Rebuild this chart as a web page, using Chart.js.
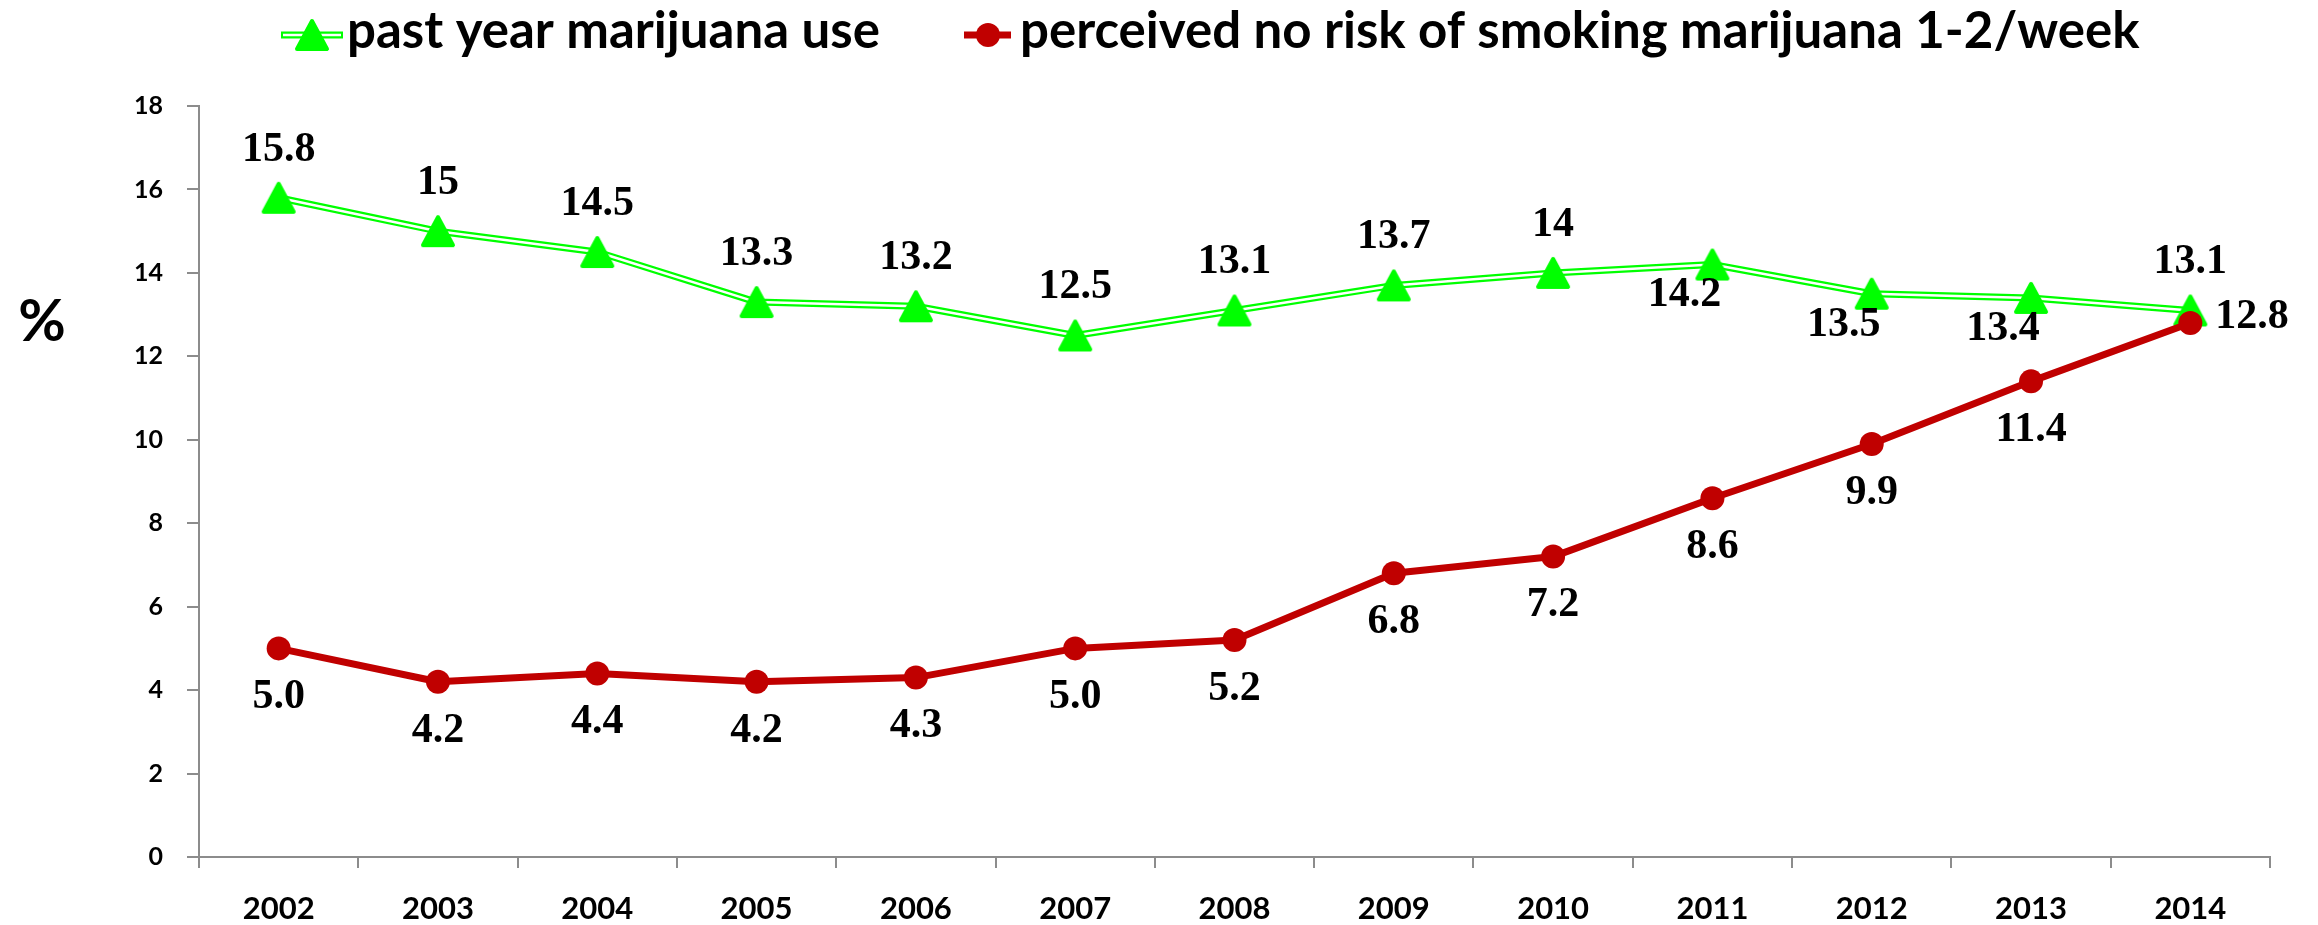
<!DOCTYPE html>
<html>
<head>
<meta charset="utf-8">
<title>Marijuana use and perceived risk, 2002-2014</title>
<script src="https://cdn.jsdelivr.net/npm/chart.js@4.4.1/dist/chart.umd.min.js"></script>
<style>
    html, body { margin: 0; padding: 0; background: #fff; }
    #wrap { width: 2318px; height: 925px; position: relative; }
</style>
</head>
<body>
<div id="wrap"><canvas id="trendChart"></canvas></div>
<script>
// Datos
const years = ['2002', '2003', '2004', '2005', '2006', '2007', '2008', '2009', '2010', '2011', '2012', '2013', '2014'];
const pastYearUse = [15.8, 15, 14.5, 13.3, 13.2, 12.5, 13.1, 13.7, 14, 14.2, 13.5, 13.4, 13.1];
const noRiskPerceived = [5.0, 4.2, 4.4, 4.2, 4.3, 5.0, 5.2, 6.8, 7.2, 8.6, 9.9, 11.4, 12.8];
const seriesNames = ['past year marijuana use', 'perceived no risk of smoking marijuana 1-2/week'];
const yMin = 0;
const yMax = 18;
const yStep = 2;
const yTitle = '%';

const GREEN = '#00ff00';
const RED = '#c00000';
const AXIS = '#8c8c8c';

// Donde va cada etiqueta respecto a su punto
const pastYearSides = ['top', 'top', 'top', 'top', 'top', 'top', 'top', 'top', 'top', 'bottomLeft', 'bottomLeft', 'bottomLeft', 'top'];
const noRiskSides = ['bottom', 'bottom', 'bottom', 'bottom', 'bottom', 'bottom', 'bottom', 'bottom', 'bottom', 'bottom', 'bottom', 'bottom', 'right'];

// Triangulo con esquinas redondeadas para los marcadores
function makeTriangle() {
    const c = document.createElement('canvas');
    c.width = 36;
    c.height = 34;
    const g = c.getContext('2d');
    g.fillStyle = GREEN;
    g.strokeStyle = GREEN;
    g.lineWidth = 4;
    g.lineJoin = 'round';
    g.beginPath();
    g.moveTo(18, 3);
    g.lineTo(33, 31);
    g.lineTo(3, 31);
    g.closePath();
    g.fill();
    g.stroke();
    return c;
}
const triangle = makeTriangle();

// Etiquetas de valor
const valueLabels = {
    id: 'valueLabels',
    afterDatasetsDraw(chart) {
        const ctx = chart.ctx;
        ctx.save();
        ctx.font = 'bold 42px "Liberation Serif", serif';
        ctx.fillStyle = '#000';
        ctx.textBaseline = 'middle';
        chart.data.datasets.forEach((ds, i) => {
            if (!ds.labelSides) return;
            const meta = chart.getDatasetMeta(i);
            meta.data.forEach((pt, j) => {
                const v = ds.data[j];
                const text = ds.labelFormat(v);
                const side = ds.labelSides[j];
                let dx = 0, dy = 0;
                ctx.textAlign = 'center';
                if (side === 'top') dy = -48;
                else if (side === 'bottom') dy = 49;
                else if (side === 'bottomLeft') { dx = -28; dy = 31; }
                else if (side === 'right') { dx = 25; dy = -6; ctx.textAlign = 'left'; }
                ctx.fillText(text, pt.x + dx, pt.y + dy);
            });
        });
        ctx.restore();
    }
};

// Leyenda superior y titulo del eje Y
const legendAndTitle = {
    id: 'legendAndTitle',
    afterDraw(chart) {
        const ctx = chart.ctx;
        const yMid = 35;
        ctx.save();

        // serie verde: linea doble + triangulo
        ctx.lineCap = 'butt';
        ctx.strokeStyle = GREEN;
        ctx.lineWidth = 7;
        ctx.beginPath();
        ctx.moveTo(281, yMid);
        ctx.lineTo(343, yMid);
        ctx.stroke();
        ctx.strokeStyle = '#fff';
        ctx.lineWidth = 2.5;
        ctx.beginPath();
        ctx.moveTo(283, yMid);
        ctx.lineTo(341, yMid);
        ctx.stroke();
        ctx.drawImage(triangle, 312 - triangle.width / 2, yMid - triangle.height / 2);

        // serie roja: linea + circulo
        ctx.strokeStyle = RED;
        ctx.lineWidth = 7;
        ctx.beginPath();
        ctx.moveTo(964, yMid);
        ctx.lineTo(1011, yMid);
        ctx.stroke();
        ctx.fillStyle = RED;
        ctx.beginPath();
        ctx.arc(988, yMid, 12, 0, Math.PI * 2);
        ctx.fill();

        ctx.fillStyle = '#000';
        ctx.font = 'bold 51px Lato, sans-serif';
        ctx.textAlign = 'left';
        ctx.textBaseline = 'alphabetic';
        ctx.fillText(seriesNames[0], 347, 48);
        ctx.fillText(seriesNames[1], 1020, 48);

        // titulo eje Y sin rotar
        ctx.font = 'bold 58px Lato, sans-serif';
        ctx.textAlign = 'center';
        ctx.textBaseline = 'middle';
        ctx.fillText(yTitle, 42, 322);
        ctx.restore();
    }
};

const ctx = document.getElementById('trendChart').getContext('2d');
const trendChart = new Chart(ctx, {
    type: 'line',
    data: {
        labels: years,
        datasets: [
            {
                // roja encima de todo
                label: seriesNames[1],
                data: noRiskPerceived,
                borderColor: RED,
                backgroundColor: RED,
                borderWidth: 7,
                borderJoinStyle: 'round',
                pointRadius: 12,
                pointBackgroundColor: RED,
                pointBorderWidth: 0,
                tension: 0,
                order: 0,
                labelSides: noRiskSides,
                labelFormat: v => v.toFixed(1)
            },
            {
                // marcadores triangulares
                label: seriesNames[0],
                data: pastYearUse,
                showLine: false,
                pointStyle: triangle,
                pointRadius: 17,
                order: 1,
                labelSides: pastYearSides,
                labelFormat: v => String(v)
            },
            {
                // centro blanco de la linea doble
                label: 'inner',
                data: pastYearUse,
                borderColor: '#fff',
                borderWidth: 2.5,
                borderJoinStyle: 'round',
                pointRadius: 0,
                tension: 0,
                order: 2
            },
            {
                // borde verde de la linea doble
                label: 'outer',
                data: pastYearUse,
                borderColor: GREEN,
                borderWidth: 7,
                borderJoinStyle: 'round',
                pointRadius: 0,
                tension: 0,
                order: 3
            }
        ]
    },
    options: {
        responsive: true,
        maintainAspectRatio: false,
        animation: false,
        layout: {
            padding: { top: 106, right: 48, left: 0, bottom: 0 }
        },
        plugins: {
            legend: { display: false },
            tooltip: { enabled: false }
        },
        scales: {
            x: {
                offset: true,
                grid: {
                    offset: true,
                    drawOnChartArea: false,
                    color: AXIS,
                    lineWidth: 2,
                    tickLength: 11
                },
                border: { color: AXIS, width: 2 },
                ticks: {
                    color: '#000',
                    padding: 22,
                    font: { family: 'Lato', weight: 'bold', size: 31 }
                },
                afterFit(scale) { scale.height = 68; }
            },
            y: {
                min: yMin,
                max: yMax,
                grid: {
                    drawOnChartArea: false,
                    color: AXIS,
                    lineWidth: 2,
                    tickLength: 12
                },
                border: { color: AXIS, width: 2 },
                ticks: {
                    stepSize: yStep,
                    color: '#000',
                    padding: 24,
                    font: { family: 'Lato', weight: 'bold', size: 25 }
                },
                afterFit(scale) { scale.width = 199; }
            }
        }
    },
    plugins: [valueLabels, legendAndTitle]
});
</script>
</body>
</html>
